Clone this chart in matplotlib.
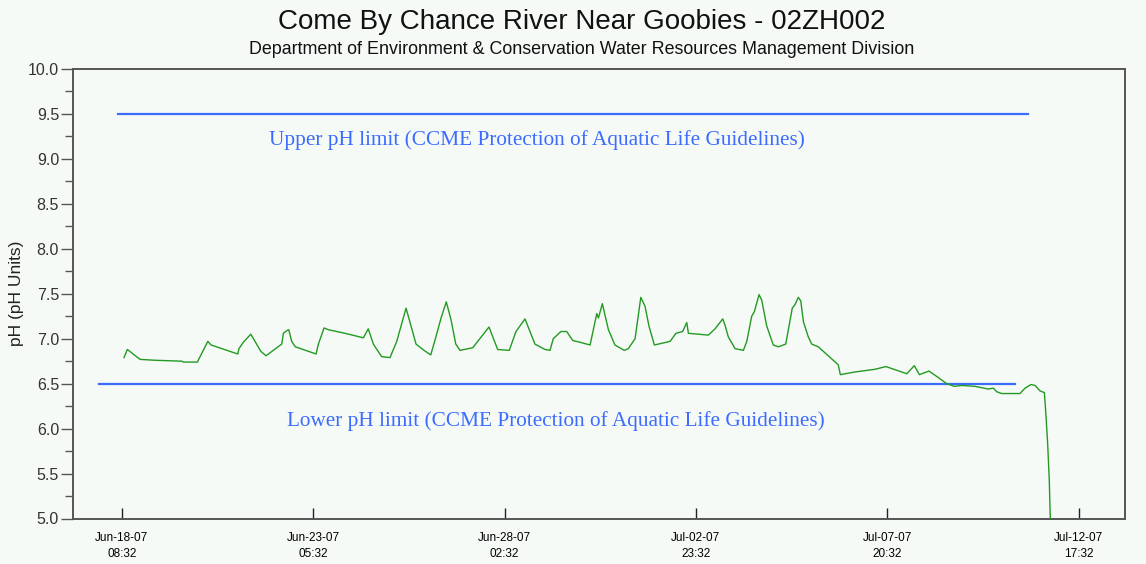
import datetime as dt

import matplotlib
matplotlib.use("Agg")
import matplotlib.pyplot as plt
import matplotlib.dates as mdates
from matplotlib import font_manager
from matplotlib.ticker import MultipleLocator, FormatStrFormatter

# ---------------------------------------------------------------------------
# Data
# ---------------------------------------------------------------------------
START = dt.datetime(2007, 6, 18, 8, 32)

# hours elapsed since Jun-18-07 08:32
hours = [
    1.4, 3.4, 11.2, 20.4, 36.7, 37.7, 46.2, 52.6, 54.6, 70.9, 71.7, 74.3,
    78.9, 85.0, 88.2, 97.8, 98.8, 100.9, 102.1, 103.9, 106.1, 118.8, 120.2,
    123.7, 126.3, 136.5, 147.7, 150.7, 153.8, 158.9, 164.0, 168.1, 173.8,
    179.9, 184.8, 188.9, 191.9, 195.2, 198.4, 201.3, 204.2, 206.8, 214.6,
    224.5, 229.8, 236.9, 241.0, 246.5, 252.6, 258.8, 261.8, 263.8, 268.5,
    272.0, 275.7, 280.2, 286.3, 290.4, 291.4, 293.8, 297.5, 301.5, 307.2,
    309.7, 313.8, 317.3, 319.9, 322.3, 325.6, 335.2, 338.8, 342.9, 345.4,
    346.4, 358.6, 362.7, 367.4, 368.8, 370.8, 374.9, 380.0, 382.1, 385.1,
    386.7, 389.6, 391.2, 394.3, 398.3, 401.4, 405.9, 409.9, 411.6, 413.6,
    415.1, 416.7, 419.7, 421.8, 425.8, 438.0, 439.3, 448.3, 460.5, 467.2,
    479.9, 484.5, 487.6, 493.5, 498.2, 504.3, 509.0, 513.5, 521.6, 529.7,
    532.8, 534.9, 537.9, 549.1, 552.2, 555.8, 558.3, 561.3, 564.0, 564.8,
    566.0, 567.0, 567.7,
]
ph = [
    6.79, 6.88, 6.77, 6.76, 6.75, 6.74, 6.74, 6.97, 6.93, 6.83, 6.89, 6.96,
    7.05, 6.86, 6.81, 6.94, 7.06, 7.09, 7.10, 6.97, 6.91, 6.83, 6.94,
    7.12, 7.10, 7.06, 7.01, 7.11, 6.94, 6.80, 6.79, 6.97, 7.34,
    6.94, 6.87, 6.82, 7.01, 7.23, 7.41, 7.21, 6.94, 6.87, 6.90,
    7.13, 6.88, 6.87, 7.08, 7.22, 6.94, 6.88, 6.87, 7.00, 7.08,
    7.08, 6.98, 6.96, 6.93, 7.28, 7.23, 7.39, 7.10, 6.93, 6.87,
    6.89, 7.00, 7.46, 7.36, 7.14, 6.93, 6.97, 7.06, 7.08, 7.18,
    7.06, 7.04, 7.11, 7.22, 7.15, 7.02, 6.89, 6.87, 6.97, 7.25,
    7.30, 7.49, 7.43, 7.14, 6.93, 6.91, 6.94, 7.34, 7.38, 7.46,
    7.42, 7.19, 7.02, 6.94, 6.91, 6.71, 6.60, 6.63, 6.66, 6.69,
    6.61, 6.70, 6.60, 6.64, 6.58, 6.50, 6.47, 6.48, 6.47, 6.44,
    6.45, 6.41, 6.39, 6.39, 6.45, 6.49, 6.48, 6.42, 6.40, 6.20,
    5.84, 5.43, 4.95,
]

# guideline lines: (pH value, start hour, end hour)
upper_limit = 9.5
upper_span = (-2.2, 554.0)
lower_limit = 6.5
lower_span = (-13.9, 546.2)
upper_label = "Upper pH limit (CCME Protection of Aquatic Life Guidelines)"
lower_label = "Lower pH limit (CCME Protection of Aquatic Life Guidelines)"

tick_step_h = 117
n_ticks = 6
xlim_h = (-29.8, 613.3)

BG = "#f6faf7"
GREEN = "#229a22"
BLUE = "#3c6cff"
AXIS = "#555555"

# narrow sans if present, otherwise plain Liberation Sans
_names = {f.name for f in font_manager.fontManager.ttflist}
NARROW = "Liberation Sans Narrow" if "Liberation Sans Narrow" in _names else "Liberation Sans"
plt.rcParams["font.family"] = ["Liberation Sans", "DejaVu Sans"]


def at(h):
    return START + dt.timedelta(hours=h)


fig = plt.figure(figsize=(11.46, 5.64), dpi=100)
fig.patch.set_facecolor(BG)
ax = fig.add_axes([73 / 1146, 1 - 518.5 / 564, (1125 - 73) / 1146, (518.5 - 69) / 564])
ax.set_facecolor(BG)

times = [at(h) for h in hours]
ax.plot(times, ph, color=GREEN, lw=1.0, zorder=3)

ax.plot([at(upper_span[0]), at(upper_span[1])], [upper_limit] * 2, color=BLUE, lw=1.6)
ax.plot([at(lower_span[0]), at(lower_span[1])], [lower_limit] * 2, color=BLUE, lw=1.6)

ax.text(at(254.0), 9.21, upper_label, color=BLUE, ha="center", va="center",
        fontsize=15.3, family="Liberation Serif")
ax.text(at(265.5), 6.08, lower_label, color=BLUE, ha="center", va="center",
        fontsize=15.3, family="Liberation Serif")

ax.set_xlim(at(xlim_h[0]), at(xlim_h[1]))
ax.set_ylim(5.0, 10.0)

ax.set_xticks([at(i * tick_step_h) for i in range(n_ticks)])
ax.xaxis.set_major_formatter(mdates.DateFormatter("%b-%d-%y\n%H:%M"))
ax.yaxis.set_major_locator(MultipleLocator(0.5))
ax.yaxis.set_minor_locator(MultipleLocator(0.25))
ax.yaxis.set_major_formatter(FormatStrFormatter("%.1f"))

ax.tick_params(axis="x", direction="in", length=8, width=1, color="#222222",
               labelsize=8.5, pad=10)
ax.tick_params(axis="y", which="major", direction="out", length=9, width=1,
               color=AXIS, labelsize=11.5, labelcolor="#333333", pad=1)
ax.tick_params(axis="y", which="minor", direction="out", length=6, width=1,
               color=AXIS)
for lbl in ax.get_xticklabels():
    lbl.set_linespacing(1.4)
    lbl.set_family(NARROW)
for s in ax.spines.values():
    s.set_color(AXIS)
    s.set_linewidth(1.4)

ax.set_ylabel("pH (pH Units)", fontsize=12.5, color="#222222")
ax.yaxis.set_label_coords(-0.0465, 0.5)

fig.text(582 / 1146, 1 - 22 / 564, "Come By Chance River Near Goobies - 02ZH002",
         ha="center", va="center", fontsize=20, color="#111111", family=NARROW)
fig.text(582 / 1146, 1 - 50 / 564,
         "Department of Environment & Conservation Water Resources Management Division",
         ha="center", va="center", fontsize=12.9, color="#111111")

fig.savefig("out.png", dpi=100, facecolor=BG)
